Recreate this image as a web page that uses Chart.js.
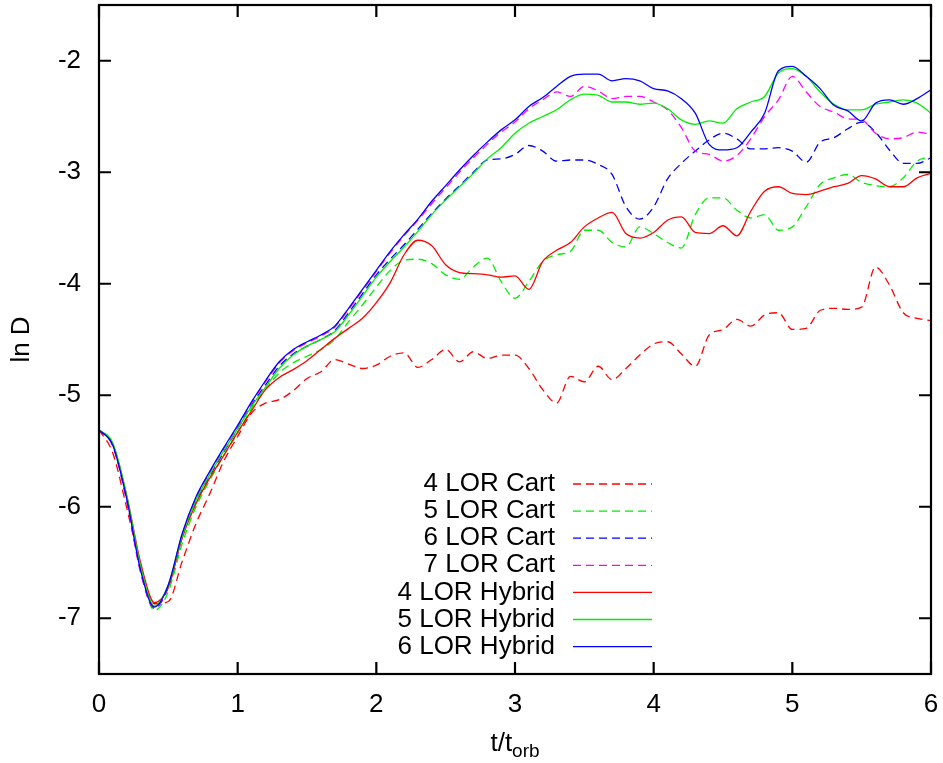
<!DOCTYPE html>
<html>
<head>
<meta charset="utf-8">
<script src="https://cdn.jsdelivr.net/npm/chart.js@4"></script>
<style>
  html, body { margin: 0; padding: 0; background: #fff; }
  #wrap { width: 943px; height: 763px; }
</style>
</head>
<body>
<div id="wrap"><canvas id="chart" width="943" height="763"></canvas></div>
<script>
// time axis, t/t_orb
const tValues = [
  0.0, 0.1, 0.2, 0.3, 0.4, 0.5, 0.6, 0.7, 0.8, 0.9,
  1.0, 1.1, 1.2, 1.3, 1.4, 1.5, 1.6, 1.7, 1.8, 1.9,
  2.0, 2.1, 2.2, 2.3, 2.4, 2.5, 2.6, 2.7, 2.8, 2.9,
  3.0, 3.1, 3.2, 3.3, 3.4, 3.5, 3.6, 3.7, 3.8, 3.9,
  4.0, 4.1, 4.2, 4.3, 4.4, 4.5, 4.6, 4.7, 4.8, 4.9,
  5.0, 5.1, 5.2, 5.3, 5.4, 5.5, 5.6, 5.7, 5.8, 5.9,
  6.0
];

const xTicks = [0, 1, 2, 3, 4, 5, 6];
const yTicks = [-7, -6, -5, -4, -3, -2];

// ln D per series
const cart4 = [
  -5.31, -5.52, -6.01, -6.53, -6.87, -6.85, -6.49, -6.15, -5.88, -5.59,
  -5.37, -5.16, -5.07, -5.04, -4.96, -4.85, -4.79, -4.68, -4.72, -4.76,
  -4.73, -4.65, -4.62, -4.75, -4.68, -4.59, -4.70, -4.61, -4.67, -4.64,
  -4.64, -4.76, -4.95, -5.07, -4.83, -4.88, -4.74, -4.86, -4.76, -4.64,
  -4.54, -4.52, -4.63, -4.74, -4.46, -4.41, -4.32, -4.38, -4.28, -4.26,
  -4.41, -4.40, -4.24, -4.22, -4.23, -4.21, -3.85, -4.01, -4.26, -4.31,
  -4.33
];
const cart5 = [
  -5.31, -5.44, -5.91, -6.55, -6.93, -6.76, -6.33, -6.00, -5.76, -5.54,
  -5.34, -5.12, -4.95, -4.80, -4.71, -4.65, -4.59, -4.50, -4.34, -4.19,
  -4.03, -3.88, -3.79, -3.78, -3.82, -3.92, -3.96, -3.85, -3.77, -3.98,
  -4.13, -3.98, -3.80, -3.74, -3.71, -3.52, -3.52, -3.63, -3.67, -3.49,
  -3.55, -3.63, -3.68, -3.38, -3.23, -3.23, -3.34, -3.41, -3.38, -3.52,
  -3.49, -3.31, -3.11, -3.05, -3.02, -3.09, -3.12, -3.13, -3.05, -2.90,
  -2.86
];
const cart6 = [
  -5.31, -5.45, -5.94, -6.58, -6.91, -6.72, -6.27, -5.95, -5.72, -5.51,
  -5.30, -5.09, -4.91, -4.74, -4.63, -4.56, -4.50, -4.42, -4.26, -4.09,
  -3.92, -3.78, -3.65, -3.51, -3.37, -3.24, -3.12, -3.00, -2.89, -2.88,
  -2.84, -2.76, -2.81, -2.90, -2.89, -2.89, -2.93, -3.02, -3.31, -3.42,
  -3.31, -3.06, -2.92, -2.81, -2.71, -2.65, -2.70, -2.79, -2.79, -2.78,
  -2.81, -2.91, -2.73, -2.69, -2.61, -2.55, -2.64, -2.80, -2.92, -2.92,
  -2.87
];
const cart7 = [
  -5.31, -5.46, -5.95, -6.59, -6.91, -6.71, -6.25, -5.92, -5.69, -5.48,
  -5.28, -5.07, -4.88, -4.71, -4.60, -4.53, -4.47, -4.39, -4.23, -4.06,
  -3.89, -3.72, -3.57, -3.43, -3.28, -3.14, -3.00, -2.87, -2.75, -2.64,
  -2.55, -2.43, -2.35, -2.28, -2.32, -2.23, -2.27, -2.34, -2.32, -2.32,
  -2.37, -2.44, -2.60, -2.81, -2.84, -2.90, -2.85, -2.70, -2.50, -2.35,
  -2.14, -2.28, -2.41, -2.46, -2.52, -2.53, -2.65, -2.70, -2.69, -2.64,
  -2.66
];
const hybrid4 = [
  -5.31, -5.44, -5.90, -6.50, -6.86, -6.72, -6.28, -5.97, -5.74, -5.54,
  -5.33, -5.14, -4.95, -4.84, -4.77, -4.69, -4.59, -4.49, -4.40, -4.31,
  -4.17, -3.99, -3.74, -3.61, -3.66, -3.83, -3.90, -3.91, -3.92, -3.94,
  -3.93, -4.05, -3.80, -3.70, -3.63, -3.49, -3.41, -3.36, -3.55, -3.59,
  -3.54, -3.43, -3.40, -3.54, -3.55, -3.48, -3.57, -3.35, -3.17, -3.13,
  -3.19, -3.20, -3.17, -3.13, -3.10, -3.03, -3.06, -3.13, -3.13, -3.05,
  -3.01
];
const hybrid5 = [
  -5.31, -5.43, -5.90, -6.53, -6.89, -6.70, -6.26, -5.94, -5.71, -5.50,
  -5.30, -5.10, -4.93, -4.76, -4.64, -4.56, -4.50, -4.43, -4.28, -4.11,
  -3.94, -3.80, -3.67, -3.53, -3.38, -3.25, -3.13, -3.01, -2.88, -2.78,
  -2.65, -2.56, -2.50, -2.44, -2.35, -2.30, -2.31, -2.37, -2.37, -2.39,
  -2.38, -2.43, -2.53, -2.57, -2.54, -2.56, -2.43, -2.37, -2.32, -2.11,
  -2.07, -2.14, -2.28, -2.39, -2.44, -2.44, -2.39, -2.37, -2.35, -2.38,
  -2.47
];
const hybrid6 = [
  -5.31, -5.45, -5.93, -6.57, -6.90, -6.70, -6.24, -5.91, -5.68, -5.47,
  -5.27, -5.06, -4.87, -4.70, -4.59, -4.52, -4.46, -4.38, -4.22, -4.05,
  -3.88, -3.71, -3.56, -3.42, -3.26, -3.12, -2.98, -2.85, -2.73, -2.62,
  -2.53, -2.41, -2.33, -2.23, -2.14, -2.12, -2.12, -2.18, -2.16, -2.18,
  -2.25, -2.27, -2.34, -2.47, -2.75, -2.80, -2.78, -2.64, -2.47, -2.09,
  -2.05, -2.14, -2.25, -2.40, -2.45, -2.54, -2.38, -2.35, -2.39, -2.34,
  -2.26
];

const FONT = '"Liberation Sans", Arial, Helvetica, sans-serif';
const FONT_SIZE = 26;
const dash = [8, 5];

const seriesList = [
  { label: '4 LOR Cart', values: cart4, color: '#ff0000', dashed: true },
  { label: '5 LOR Cart', values: cart5, color: '#00ee00', dashed: true },
  { label: '6 LOR Cart', values: cart6, color: '#0000ff', dashed: true },
  { label: '7 LOR Cart', values: cart7, color: '#ff00ff', dashed: true },
  { label: '4 LOR Hybrid', values: hybrid4, color: '#ff0000', dashed: false },
  { label: '5 LOR Hybrid', values: hybrid5, color: '#00ee00', dashed: false },
  { label: '6 LOR Hybrid', values: hybrid6, color: '#0000ff', dashed: false }
];

const datasets = seriesList.map((s, i) => ({
  label: s.label,
  data: tValues.map((t, k) => ({ x: t, y: s.values[k] })),
  borderColor: s.color,
  borderWidth: 1.3,
  borderDash: s.dashed ? dash : [],
  pointRadius: 0,
  fill: false,
  cubicInterpolationMode: 'monotone',
  order: seriesList.length - 1 - i
}));

// gnuplot-like frame, mirrored inward ticks, axis titles and key
const gnuplotLook = {
  id: 'gnuplotLook',
  afterDraw(chart) {
    const { ctx, chartArea: a, scales } = chart;
    ctx.save();
    ctx.strokeStyle = '#000';
    ctx.lineWidth = 2.2;
    ctx.setLineDash([]);
    ctx.strokeRect(a.left, a.top, a.right - a.left, a.bottom - a.top);

    const len = 12;
    ctx.beginPath();
    xTicks.forEach(v => {
      const x = scales.x.getPixelForValue(v);
      ctx.moveTo(x, a.bottom); ctx.lineTo(x, a.bottom - len);
      ctx.moveTo(x, a.top); ctx.lineTo(x, a.top + len);
    });
    yTicks.forEach(v => {
      const y = scales.y.getPixelForValue(v);
      ctx.moveTo(a.left, y); ctx.lineTo(a.left + len, y);
      ctx.moveTo(a.right, y); ctx.lineTo(a.right - len, y);
    });
    ctx.stroke();

    // axis titles
    ctx.fillStyle = '#000';
    ctx.textAlign = 'left';
    ctx.textBaseline = 'alphabetic';
    const main = 't/t', sub = 'orb';
    ctx.font = FONT_SIZE + 'px ' + FONT;
    const w1 = ctx.measureText(main).width;
    ctx.font = '19px ' + FONT;
    const w2 = ctx.measureText(sub).width;
    const x0 = (a.left + a.right) / 2 - (w1 + w2) / 2;
    ctx.font = FONT_SIZE + 'px ' + FONT;
    ctx.fillText(main, x0, 751);
    ctx.font = '19px ' + FONT;
    ctx.fillText(sub, x0 + w1, 757);

    ctx.save();
    ctx.translate(22, (a.top + a.bottom) / 2);
    ctx.rotate(-Math.PI / 2);
    ctx.font = FONT_SIZE + 'px ' + FONT;
    ctx.textAlign = 'center';
    ctx.textBaseline = 'middle';
    ctx.fillText('ln D', 0, 0);
    ctx.restore();

    // key
    ctx.font = FONT_SIZE + 'px ' + FONT;
    ctx.textAlign = 'right';
    ctx.textBaseline = 'middle';
    chart.data.datasets.forEach((ds, i) => {
      const y = 484 + i * 27.1;
      ctx.fillStyle = '#000';
      ctx.fillText(ds.label, 555, y);
      ctx.strokeStyle = ds.borderColor;
      ctx.lineWidth = ds.borderWidth;
      ctx.setLineDash(ds.borderDash);
      ctx.beginPath();
      ctx.moveTo(573, y);
      ctx.lineTo(652, y);
      ctx.stroke();
    });
    ctx.restore();
  }
};

new Chart(document.getElementById('chart').getContext('2d'), {
  type: 'line',
  data: { datasets },
  options: {
    responsive: false,
    animation: false,
    events: [],
    layout: { padding: { top: 5, right: 12, left: 0, bottom: 0 } },
    plugins: {
      legend: { display: false },
      tooltip: { enabled: false }
    },
    scales: {
      x: {
        type: 'linear',
        min: 0,
        max: 6,
        afterBuildTicks: scale => { scale.ticks = xTicks.map(v => ({ value: v })); },
        afterFit: scale => {
          scale.height = 89;
          scale.paddingLeft = 0;
          scale.paddingRight = 0;
        },
        grid: { display: false, drawTicks: false },
        border: { display: false },
        ticks: {
          color: '#000',
          padding: 15,
          maxRotation: 0,
          font: { family: FONT, size: FONT_SIZE }
        }
      },
      y: {
        type: 'linear',
        min: -7.5,
        max: -1.5,
        afterBuildTicks: scale => { scale.ticks = yTicks.map(v => ({ value: v })); },
        afterFit: scale => {
          scale.width = 99;
          scale.paddingTop = 0;
          scale.paddingBottom = 0;
        },
        grid: { display: false, drawTicks: false },
        border: { display: false },
        ticks: {
          color: '#000',
          padding: 18,
          font: { family: FONT, size: FONT_SIZE }
        }
      }
    }
  },
  plugins: [gnuplotLook]
});
</script>
</body>
</html>
